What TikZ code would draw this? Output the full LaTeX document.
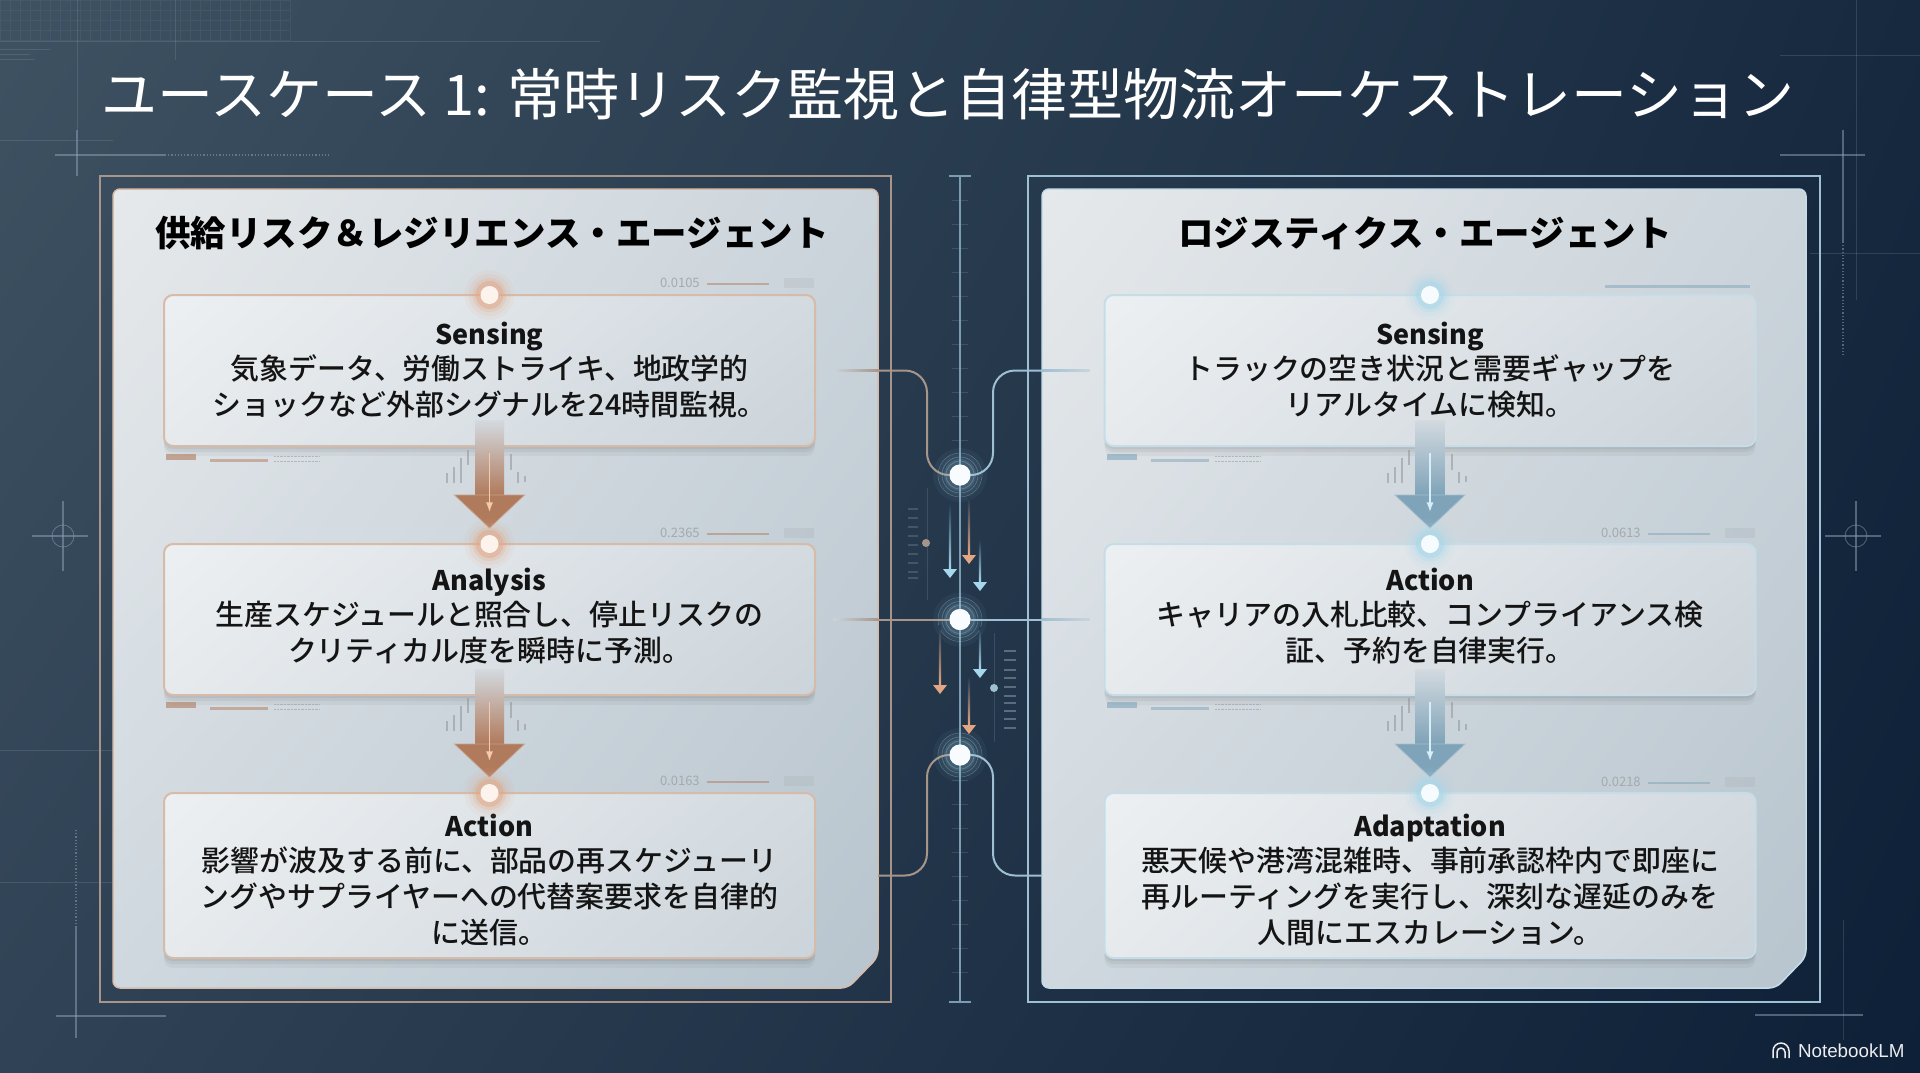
\documentclass[tikz,border=0pt]{standalone}
\usepackage{fontspec}
\setmainfont{Noto Sans CJK JP}
\newfontfamily\bodyfont{Noto Sans CJK JP Medium}
\newfontfamily\headfont{Noto Sans CJK JP}
\newfontfamily\logofont{Liberation Sans}
\usetikzlibrary{arrows.meta,positioning,shadows,shadings}
\definecolor{FondoA}{HTML}{3E5262}
\definecolor{FondoB}{HTML}{16293F}
\definecolor{FondoC}{HTML}{304255}
\definecolor{FondoD}{HTML}{0E2037}
\definecolor{FondoMedio}{HTML}{223A50}
\definecolor{Cobre}{HTML}{B07A5C}
\definecolor{CobreClaro}{HTML}{F4C9AE}
\definecolor{CobreBrillo}{HTML}{E3A683}
\definecolor{CobreLinea}{HTML}{A8958A}
\definecolor{CobreBorde}{HTML}{D6BBA9}
\definecolor{Celeste}{HTML}{7FA3B8}
\definecolor{CelesteClaro}{HTML}{D6EEF8}
\definecolor{CelesteBrillo}{HTML}{A5D8EC}
\definecolor{CelesteLinea}{HTML}{9FBFD2}
\definecolor{CelesteBorde}{HTML}{C6DDE8}
\definecolor{Eje}{HTML}{7B9DB2}
\definecolor{PanelA}{HTML}{E6E9EB}
\definecolor{PanelB}{HTML}{CBD4DB}
\definecolor{PanelC}{HTML}{CFD8DF}
\definecolor{PanelD}{HTML}{B8C5CE}
\definecolor{CajaA}{HTML}{EDF0F2}
\definecolor{CajaB}{HTML}{D3DAE0}
\definecolor{CajaC}{HTML}{E6EAED}
\definecolor{CajaD}{HTML}{CBD4DA}
\definecolor{Grafito}{HTML}{8E9599}
\definecolor{Malla}{HTML}{8FA6B8}
\newcommand{\stephead}[1]{{\fontsize{27}{36}\headfont\bfseries #1}\\[-1pt]}
\begin{document}
\begin{tikzpicture}[x=1pt,y=-1pt,node distance=98pt,>=Latex,
  every node/.style={align=center,inner sep=0pt,outer sep=0pt},
  panelshape/.style={shade,upper left=PanelA,upper right=PanelB,lower left=PanelC,lower right=PanelD,rounded corners=7pt,line width=1.5pt},
  stepbox/.style={rounded corners=9pt,minimum width=651pt,minimum height=151pt,line width=2pt,text=black!92,
    shade,upper left=CajaA,upper right=CajaB,lower left=CajaC,lower right=CajaD,
    drop shadow={shadow xshift=0pt,shadow yshift=-3pt,fill=black,opacity=.05},
    drop shadow={shadow xshift=0pt,shadow yshift=-6pt,fill=black,opacity=.05},
    drop shadow={shadow xshift=0pt,shadow yshift=-10pt,fill=black,opacity=.04},
    font=\fontsize{28.9}{36}\bodyfont},
  panelhead/.style={font=\fontsize{35.5}{40}\selectfont\bfseries,text=black},
  stepdot/.style={circle,minimum size=18pt},
  hubdot/.style={circle,fill=white!85!CelesteClaro,minimum size=21pt},
  tinynum/.style={font=\fontsize{13}{14}\selectfont,text=Grafito!80,anchor=west},
  copperline/.style={CobreLinea,line width=2pt},
  iceline/.style={CelesteLinea,line width=2pt},
  faintline/.style={Malla,line width=.7pt,opacity=.22},
  markline/.style={Malla,line width=1.2pt,opacity=.5}]
\useasboundingbox (0,0) rectangle (1920,1072);
\shade[upper left=FondoA,upper right=FondoB,lower left=FondoC,lower right=FondoD] (0,0) rectangle (1920,1072);

% background marks
\draw[faintline,opacity=.1,step=10pt] (0,0) grid (290,41);
\foreach \y in {41,140,750,882} \draw[faintline] (0,\y) -- (113,\y);
\draw[faintline] (113,41) -- (600,41);
\draw[faintline] (1780,55) -- (1920,55);
\draw[faintline] (1810,253) -- (1920,253);
\draw[faintline] (1856,0) -- (1856,300);
\draw[faintline] (77,0) -- (77,130);
\draw[faintline] (175,0) -- (175,60);
\foreach \y/\x in {49/50,54/30,59/35} \draw[faintline] (0,\y) -- (\x,\y);
\draw[markline] (55,155) -- (165,155);
\draw[markline,dotted] (165,155) -- (330,155);
\draw[markline] (77,130) -- (77,176);
\draw[markline] (1780,155) -- (1865,155);
\draw[markline] (1843,130) -- (1843,242);
\draw[markline,dotted] (1843,242) -- (1843,355);
\draw[markline] (56,1016) -- (166,1016);
\draw[markline] (76,926) -- (76,1038);
\draw[markline,dotted] (76,830) -- (76,926);
\draw[markline] (1755,1015) -- (1863,1015);
\draw[faintline] (1843,920) -- (1843,1040);
\foreach \x in {63,1856} {
  \draw[markline] (\x-31,536) -- (\x+25,536);
  \draw[markline] (\x,501) -- (\x,571);
  \draw[markline,line width=.8pt] (\x,536) circle (11pt);
}

\node[anchor=west,text=white,font=\fontsize{56}{60}\selectfont] (heading) at (101,94) {ユースケース 1: 常時リスク監視と自律型物流オーケストレーション};

% panels
\draw[CobreLinea,line width=2pt] (100,176) rectangle (891,1002);
\draw[CelesteLinea,line width=2pt] (1028,176) rectangle (1820,1002);
\path[panelshape,draw=CobreBorde] (113,189) -- (878,189) -- (878,957) -- (848,988) -- (113,988) -- cycle;
\path[panelshape,draw=CelesteBorde] (1042,189) -- (1806,189) -- (1806,957) -- (1776,988) -- (1042,988) -- cycle;
\node[panelhead] (lhead) at (492,233) {供給リスク＆レジリエンス・エージェント};
\node[panelhead] (rhead) at (1425,233) {ロジスティクス・エージェント};

% steps
\node[stepbox,draw=CobreBorde] (lsense) at (489.5,370.5) {\stephead{Sensing}気象データ、労働ストライキ、地政学的\\ショックなど外部シグナルを24時間監視。};
\node[stepbox,draw=CobreBorde,below=of lsense] (lana) {\stephead{Analysis}生産スケジュールと照合し、停止リスクの\\クリティカル度を瞬時に予測。\rule[-9pt]{0pt}{9pt}};
\node[stepbox,draw=CobreBorde,below=of lana,minimum height=165pt] (lact) {\rule{0pt}{31pt}\stephead{Action}影響が波及する前に、部品の再スケジューリ\\ングやサプライヤーへの代替案要求を自律的\\に送信。};
\node[stepbox,draw=CelesteBorde] (rsense) at (1430,370.5) {\stephead{Sensing}トラックの空き状況と需要ギャップを\\リアルタイムに検知。};
\node[stepbox,draw=CelesteBorde,below=of rsense] (ract) {\stephead{Action}キャリアの入札比較、コンプライアンス検\\証、予約を自律実行。\rule[-9pt]{0pt}{9pt}};
\node[stepbox,draw=CelesteBorde,below=of ract,minimum height=165pt] (radapt) {\rule{0pt}{31pt}\stephead{Adaptation}悪天候や港湾混雑時、事前承認枠内で即座に\\再ルーティングを実行し、深刻な遅延のみを\\人間にエスカレーション。};

% small readings around the steps
\foreach \cx/\col in {489/Cobre,1430/Celeste} \foreach \dy in {0,248} {
  \foreach \ox/\ta/\tb in {-43/473/483,-36/467/483,-29/458/483,-22/450/465,21/454/470,28/472/483,35/476/482}
    \fill[Grafito,opacity=.55] ({\cx+\ox},{\ta+\dy}) rectangle ++(2,{\tb-\ta});
  \fill[\col,opacity=.6] ({\cx-323},{454+\dy}) rectangle ++(30,6);
  \fill[\col,opacity=.5] ({\cx-279},{459+\dy}) rectangle ++(58,3);
  \draw[Grafito,opacity=.5,densely dotted] ({\cx-215},{456+\dy}) -- ++(45,0);
  \draw[Grafito,opacity=.5,densely dotted] ({\cx-215},{461+\dy}) -- ++(45,0);
}
\node[tinynum] (numa) at (660,283) {0.0105};
\node[tinynum] (numb) at (660,533) {0.2365};
\node[tinynum] (numc) at (660,781) {0.0163};
\node[tinynum] (numd) at (1601,533) {0.0613};
\node[tinynum] (nume) at (1601,782) {0.0218};
\foreach \nm/\col in {numa/Cobre,numb/Cobre,numc/Cobre,numd/Celeste,nume/Celeste} {
  \fill[\col,opacity=.5] ([xshift=7pt,yshift=.5pt]\nm.east) rectangle ++(62,2);
  \fill[Grafito,opacity=.14] ([xshift=84pt,yshift=5pt]\nm.east) rectangle ++(30,10);
}
\fill[Celeste,opacity=.5] (1605,285) rectangle (1750,288);

% descending arrows and dots
\foreach \a/\b/\col/\pale in {lsense/lana/Cobre/CobreClaro,lana/lact/Cobre/CobreClaro,rsense/ract/Celeste/CelesteClaro,ract/radapt/Celeste/CelesteClaro} {
  \shade[top color=CajaB,bottom color=\col] ([xshift=-14.5pt,yshift=26pt]\a.south) rectangle ([xshift=14.5pt,yshift=49pt]\b.north);
  \filldraw[fill=\col,draw=\col!70!white,line width=.8pt] ([xshift=-35pt,yshift=49pt]\b.north) -- ([xshift=35pt,yshift=49pt]\b.north) -- ([yshift=16pt]\b.north) -- cycle;
  \draw[->,\pale,line width=1.5pt] ([yshift=-7pt]\a.south) -- ([yshift=32pt]\b.north);
}
\foreach \nm/\col/\pale in {lsense/CobreBrillo/CobreClaro,lana/CobreBrillo/CobreClaro,lact/CobreBrillo/CobreClaro,rsense/CelesteBrillo/CelesteClaro,ract/CelesteBrillo/CelesteClaro,radapt/CelesteBrillo/CelesteClaro} {
  \foreach \r/\o in {25/.08,21/.12,17/.22,14/.45} \fill[\col,opacity=\o] (\nm.north) circle (\r pt);
  \node[stepdot,fill=\pale!22!white] (\nm dot) at (\nm.north) {};
}

% middle channel
\coordinate (spinetop) at (960,176);
\coordinate (spineend) at (960,1002);
\coordinate (edgeL) at (878,0);
\coordinate (edgeR) at (1042,0);
\coordinate (railL) at (927,0);
\coordinate (railR) at (993,0);
\draw[Eje,line width=2pt] (spinetop) -- (spineend);
\draw[Eje,line width=1.5pt] ([xshift=-11pt]spinetop) -- ([xshift=11pt]spinetop);
\draw[Eje,line width=1.5pt] ([xshift=-11pt]spineend) -- ([xshift=11pt]spineend);
\foreach \y in {200,224,...,440,780,804,...,990} \draw[faintline] (952,\y) -- (968,\y);
\node[hubdot] (hubA) at (960,475) {};
\node[hubdot] (hubB) at (960,619.5) {};
\node[hubdot] (hubC) at (960,755) {};
\coordinate[right=18pt of lsense] (ltapA);
\coordinate[right=18pt of lana] (ltapB);
\coordinate[left=15pt of rsense] (rtapA);
\coordinate[left=15pt of ract] (rtapB);
\foreach \t/\c in {ltapA/CobreLinea,ltapB/CobreLinea}
  \shade[left color=PanelB,right color=\c] ([yshift=1pt]\t) rectangle ([yshift=-1pt]\t -| edgeL);
\foreach \t/\c in {rtapA/CelesteLinea,rtapB/CelesteLinea}
  \shade[right color=PanelB,left color=\c] ([yshift=1pt]\t) rectangle ([yshift=-1pt]\t -| edgeR);
\draw[copperline,rounded corners=22pt] (ltapA -| edgeL) -- (ltapA -| railL) -- (hubA -| railL) -- (hubA);
\draw[iceline,rounded corners=22pt] (rtapA -| edgeR) -- (rtapA -| railR) -- (hubA -| railR) -- (hubA);
\draw[copperline] (ltapB -| edgeL) -- (hubB);
\draw[iceline] (rtapB -| edgeR) -- (hubB);
\draw[copperline,rounded corners=22pt] (lact -| edgeL) -- (lact -| railL) -- (hubC -| railL) -- (hubC);
\draw[iceline,rounded corners=22pt] (radapt -| edgeR) -- (radapt -| railR) -- (hubC -| railR) -- (hubC);
\foreach \nm in {hubA,hubB,hubC} {
  \foreach \r/\o in {27/.05,21/.08,16/.14} \fill[CelesteBrillo,opacity=\o] (\nm) circle (\r pt);
  \foreach \r in {14,18,22} \draw[CelesteLinea,opacity=.4,line width=.6pt] (\nm) circle (\r pt);
  \node[hubdot] at (\nm) {};
}

% passing flows
\foreach \x/\a/\b/\col in {950/503/569/CelesteBrillo,969/497/555/CobreBrillo,980/540/582/CelesteBrillo,940/625/685/CobreBrillo,980/627/669/CelesteBrillo,969/677/725/CobreBrillo} {
  \shade[top color=FondoMedio,bottom color=\col] ({\x-1.2},\a) rectangle ({\x+1.2},\b);
  \fill[\col] ({\x-7},\b) -- ({\x+7},\b) -- (\x,\b+9) -- cycle;
}

% side scales
\draw[faintline] (927,488) -- (927,600);
\fill[CobreLinea] (926,543) circle (4pt);
\draw[faintline] (994,633) -- (994,742);
\fill[CelesteLinea] (994,688) circle (4pt);
\foreach \y in {509,518,527,536,545,554,563,572,578} \draw[Malla,opacity=.28,line width=1.2pt] (908,\y) -- (918,\y);
\foreach \y in {651,660,670,678,687,696,703,711,719,728} \draw[Malla,opacity=.5,line width=1.2pt] (1004,\y) -- (1016,\y);

% logo
\node[anchor=west,text=white!92!FondoD,font=\fontsize{18.8}{20}\logofont] (logo) at (1798,1051) {NotebookLM};
\draw[white!92!FondoD,line width=1.5pt] (1773,1058) -- (1773,1051) arc (180:0:8pt) -- (1789,1058);
\draw[white!92!FondoD,line width=1.5pt] (1777,1058) -- (1777,1052) arc (180:0:4pt) -- (1785,1058);
\end{tikzpicture}
\end{document}
